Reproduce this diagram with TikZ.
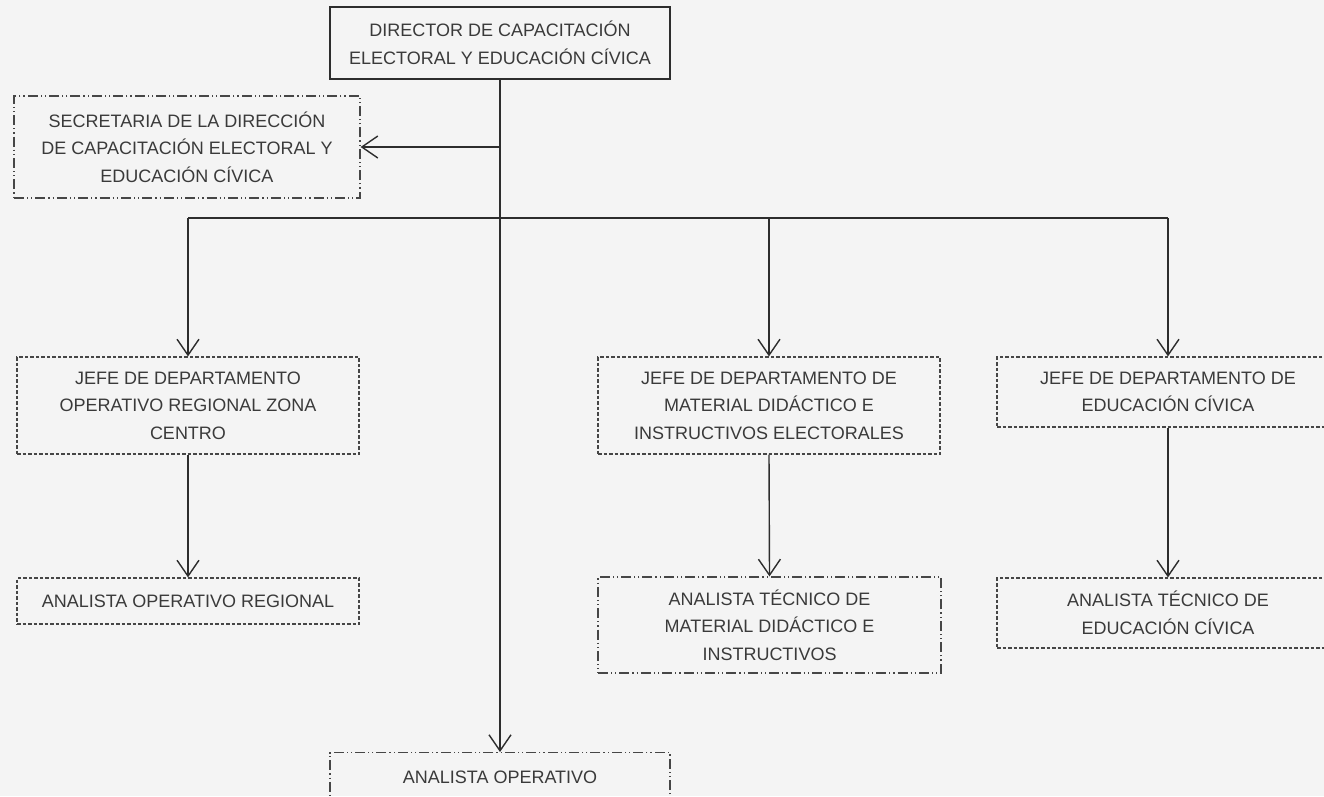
\documentclass[tikz,border=0pt]{standalone}
\usepackage{fontspec}
\setmainfont{Liberation Sans}
\usetikzlibrary{arrows.meta}
\definecolor{bg}{RGB}{244,244,244}
\definecolor{ln}{RGB}{45,45,45}
\definecolor{bx}{RGB}{70,70,70}
\definecolor{tx}{RGB}{58,58,58}
\begin{document}
\begin{tikzpicture}[x=1pt,y=-1pt,
  box/.style={draw=bx, text=tx, font=\fontsize{18}{27.5}\selectfont, align=center, inner sep=0pt, line width=1.2pt},
  solidbox/.style={box, draw=ln, line width=1.3pt},
  dashbox/.style={box, dash pattern=on 3.5pt off 2pt},
  ddbox/.style={box, dash pattern=on 10pt off 3pt on 1.2pt off 3pt on 1.2pt off 3pt},
  conn/.style={draw=ln, line width=1.4pt},
  arr/.style={conn, -{Straight Barb[length=16pt,width=22pt,line width=1.4pt]}}]
\fill[bg] (0,0) rectangle (1324,796);
\clip (0,0) rectangle (1324,796);

\node[solidbox, minimum width=340pt, minimum height=72pt] (dir) at (500,43)
  {DIRECTOR DE CAPACITACIÓN\\ELECTORAL Y EDUCACIÓN CÍVICA};
\node[ddbox, minimum width=346pt, minimum height=102pt] (sec) at (187,147)
  {SECRETARIA DE LA DIRECCIÓN\\DE CAPACITACIÓN ELECTORAL Y\\EDUCACIÓN CÍVICA};

\node[dashbox, minimum width=342pt, minimum height=97pt] (jzc) at (188,405.5)
  {JEFE DE DEPARTAMENTO\\OPERATIVO REGIONAL ZONA\\CENTRO};
\node[dashbox, minimum width=342pt, minimum height=97pt] (jmd) at (769,405.5)
  {JEFE DE DEPARTAMENTO DE\\MATERIAL DIDÁCTICO E\\INSTRUCTIVOS ELECTORALES};
\node[dashbox, minimum width=342pt, minimum height=70pt] (jec) at (1168,392)
  {JEFE DE DEPARTAMENTO DE\\EDUCACIÓN CÍVICA};

\node[dashbox, minimum width=342pt, minimum height=46pt] (aor) at (188,601)
  {ANALISTA OPERATIVO REGIONAL};
\node[ddbox, minimum width=343pt, minimum height=96pt] (atm) at (769.5,625)
  {ANALISTA TÉCNICO DE\\MATERIAL DIDÁCTICO E\\INSTRUCTIVOS};
\node[dashbox, minimum width=342pt, minimum height=70pt] (ate) at (1168,613)
  {ANALISTA TÉCNICO DE\\EDUCACIÓN CÍVICA};

\node[ddbox, anchor=north, minimum width=340pt, inner ysep=13pt, text height=18pt, text depth=60pt] (ao) at (500,752)
  {ANALISTA OPERATIVO};

% connectors
\draw[arr] (dir.south) -- (ao.north);
\coordinate (tsec) at (dir.south |- sec.east);
\draw[arr] (tsec) -- (sec.east);
\coordinate (br) at (500,218);
\draw[conn] (jzc.north |- br) -- (jec.north |- br);
\draw[arr] (jzc.north |- br) -- (jzc.north);
\draw[arr] (jmd.north |- br) -- (jmd.north);
\draw[arr] (jec.north |- br) -- (jec.north);
\draw[arr] (jzc.south) -- (aor.north);
\draw[arr] (jmd.south) -- (atm.north);
\draw[arr] (jec.south) -- (ate.north);
\end{tikzpicture}
\end{document}
